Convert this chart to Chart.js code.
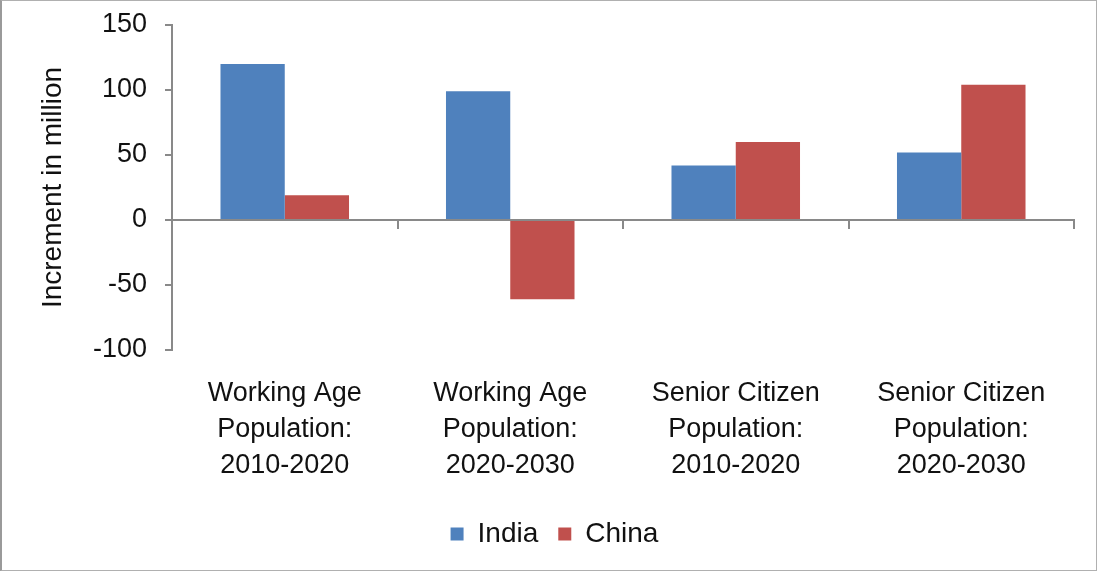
<!DOCTYPE html>
<html>
<head>
<meta charset="utf-8">
<script src="https://cdn.jsdelivr.net/npm/chart.js@4"></script>
<style>
  html, body { margin: 0; padding: 0; background: #fff; }
  .frame {
    width: 1097px; height: 571px; box-sizing: border-box;
    border: 1px solid #b0b0b0; border-left: 2px solid #9a9a9a;
    position: relative;
  }
</style>
</head>
<body>
<div class="frame"><canvas id="myChart"></canvas></div>
<script>
var categories = [
    ['Working Age', 'Population:', '2010-2020'],
    ['Working Age', 'Population:', '2020-2030'],
    ['Senior Citizen', 'Population:', '2010-2020'],
    ['Senior Citizen', 'Population:', '2020-2030']
];
var india = [120, 99, 42, 52];
var china = [19, -61, 60, 104];
var yTicks = { min: -100, max: 150, step: 50 };

var axisGrey = '#898989';
var fontFamily = '"Liberation Sans", Arial, sans-serif';

function noPad(scale) {
    scale.paddingTop = 0;
    scale.paddingBottom = 0;
}

const ctx = document.getElementById('myChart');
new Chart(ctx, {
    type: 'bar',
    data: {
        labels: categories,
        datasets: [{
            label: 'India',
            data: india,
            backgroundColor: '#4F81BD',
            borderWidth: 0,
            barPercentage: 1,
            categoryPercentage: 0.57
        }, {
            label: 'China',
            data: china,
            backgroundColor: '#C0504D',
            borderWidth: 0,
            barPercentage: 1,
            categoryPercentage: 0.57
        }]
    },
    options: {
        responsive: true,
        maintainAspectRatio: false,
        animation: false,
        layout: { padding: { left: 33, right: 22, top: 24, bottom: 12 } },
        plugins: {
            tooltip: { enabled: false },
            legend: {
                position: 'bottom',
                labels: {
                    boxWidth: 13, boxHeight: 13, padding: 20,
                    color: '#111',
                    font: { family: fontFamily, size: 28 }
                }
            }
        },
        scales: {
            x: {
                grid: { display: false, drawTicks: false },
                border: { display: false },
                ticks: {
                    color: '#111', padding: 26, maxRotation: 0, autoSkip: false,
                    font: { family: fontFamily, size: 27, lineHeight: 1.33 }
                },
                afterFit: function (scale) { scale.height = 150; noPad(scale); }
            },
            zero: {
                type: 'category',
                axis: 'x',
                position: { y: 0 },
                offset: true,
                grid: { display: true, drawOnChartArea: false, drawTicks: true, tickLength: 8, offset: true, color: axisGrey, lineWidth: 2 },
                border: { display: true, color: axisGrey, width: 2 },
                ticks: { display: false },
                afterFit: noPad
            },
            y: {
                min: yTicks.min,
                max: yTicks.max,
                ticks: {
                    stepSize: yTicks.step, color: '#111', padding: 18,
                    font: { family: fontFamily, size: 27 }
                },
                grid: { drawOnChartArea: false, drawTicks: true, tickLength: 7, color: axisGrey, lineWidth: 2 },
                border: { display: true, color: axisGrey, width: 2 },
                title: {
                    display: true, text: 'Increment in million', color: '#111',
                    font: { family: fontFamily, size: 28 },
                    padding: { top: 1, bottom: 0 }
                },
                afterFit: function (scale) { scale.width = 137; noPad(scale); }
            }
        }
    }
});
</script>
</body>
</html>
